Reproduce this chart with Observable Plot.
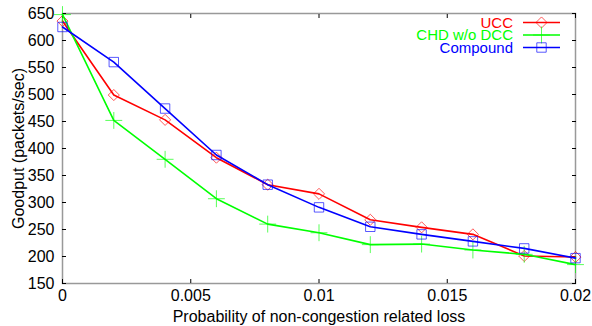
<!DOCTYPE html>
<html>
<head>
<meta charset="utf-8">
<script src="https://cdn.jsdelivr.net/npm/d3@7"></script>
<script src="https://cdn.jsdelivr.net/npm/@observablehq/plot@0.6"></script>
<style>
  html, body { margin: 0; padding: 0; background: #fff; }
  #chart { width: 592px; height: 326px; }
</style>
</head>
<body>
<div id="chart"></div>
<script>
const lossProb = [0, 0.002, 0.004, 0.006, 0.008, 0.01, 0.012, 0.014, 0.016, 0.018, 0.02];
const ucc      = [636, 499, 453, 383, 333, 316, 268, 254, 241, 201, 199];
const chd      = [648, 452, 380, 307, 260, 244, 222, 223, 212, 204, 185];
const compound = [625, 560, 474, 388, 333, 291, 255, 241, 228, 215, 197];
const seriesNames = ["UCC", "CHD w/o DCC", "Compound"];
const xTicks = [0, 0.005, 0.01, 0.015, 0.02];
const yTicks = [150, 200, 250, 300, 350, 400, 450, 500, 550, 600, 650];

const colors = {"UCC": "#ff0000", "CHD w/o DCC": "#00ff00", "Compound": "#0000ff"};
const symbols = {"UCC": "diamond2", "CHD w/o DCC": "plus", "Compound": "square2"};
const radii = {"UCC": 5, "CHD w/o DCC": 5.5, "Compound": 6};
const valuesBySeries = {"UCC": ucc, "CHD w/o DCC": chd, "Compound": compound};

const rows = [];
for (const s of seriesNames) {
  lossProb.forEach((x, i) => rows.push({series: s, x, y: valuesBySeries[s][i]}));
}

const font = "Liberation Sans, Arial, sans-serif";
const fmt = d => String(+d.toFixed(3));

const marks = [
  Plot.frame({stroke: "#999", strokeWidth: 1.5}),
  Plot.axisY({anchor: "left", ticks: yTicks, tickSize: -4, tickPadding: 12, fontSize: 16, tickFormat: () => "", label: null}),
  Plot.axisY({anchor: "left", ticks: yTicks, tickSize: 0, tickPadding: 8, fontSize: 16,
    label: "Goodput (packets/sec)", labelAnchor: "center", labelArrow: "none", labelOffset: 50}),
  Plot.axisY({anchor: "right", ticks: yTicks, tickSize: -4, tickFormat: () => "", label: null}),
  Plot.axisX({anchor: "bottom", ticks: xTicks, tickSize: -4, tickFormat: () => "", label: null}),
  Plot.axisX({anchor: "bottom", ticks: xTicks, tickSize: 0, tickPadding: 6, tickFormat: fmt, fontSize: 16,
    label: "Probability of non-congestion related loss", labelAnchor: "center", labelArrow: "none", labelOffset: 38}),
  Plot.axisX({anchor: "top", ticks: xTicks, tickSize: -4, tickFormat: () => "", label: null})
];
for (const s of seriesNames) {
  const data = rows.filter(r => r.series === s);
  marks.push(Plot.line(data, {x: "x", y: "y", stroke: colors[s], strokeWidth: 1.6}));
  marks.push(Plot.dot(data, {x: "x", y: "y", stroke: colors[s], symbol: symbols[s], r: radii[s], strokeWidth: 1, strokeOpacity: 0.65, fill: "none"}));
}

const chart = Plot.plot({
  width: 592,
  height: 326,
  marginLeft: 62,
  marginRight: 17,
  marginTop: 13,
  marginBottom: 43,
  style: {fontFamily: font, fontSize: "15px", color: "#000", background: "#fff"},
  x: {domain: [0, 0.02]},
  y: {domain: [150, 650]},
  marks
});

// Legend (top-right, inside the frame)
const svg = d3.select(chart);
const lg = svg.append("g").attr("font-family", font).attr("font-size", 15);
seriesNames.forEach((s, i) => {
  const cy = 22.5 + i * 12.5;
  lg.append("text").attr("x", 513).attr("y", cy).attr("dy", "0.36em").attr("text-anchor", "end")
    .attr("fill", colors[s]).text(s);
  lg.append("line").attr("x1", 523).attr("x2", 560).attr("y1", cy).attr("y2", cy)
    .attr("stroke", colors[s]).attr("stroke-width", 1.6);
  const sym = {"UCC": d3.symbolDiamond2, "CHD w/o DCC": d3.symbolPlus, "Compound": d3.symbolSquare2}[s];
  const size = Math.PI * radii[s] * radii[s];
  lg.append("path").attr("d", d3.symbol(sym, size)()).attr("transform", `translate(541.5,${cy})`)
    .attr("fill", "none").attr("stroke", colors[s]).attr("stroke-opacity", 0.65);
});

document.getElementById("chart").appendChild(chart);
</script>
</body>
</html>
